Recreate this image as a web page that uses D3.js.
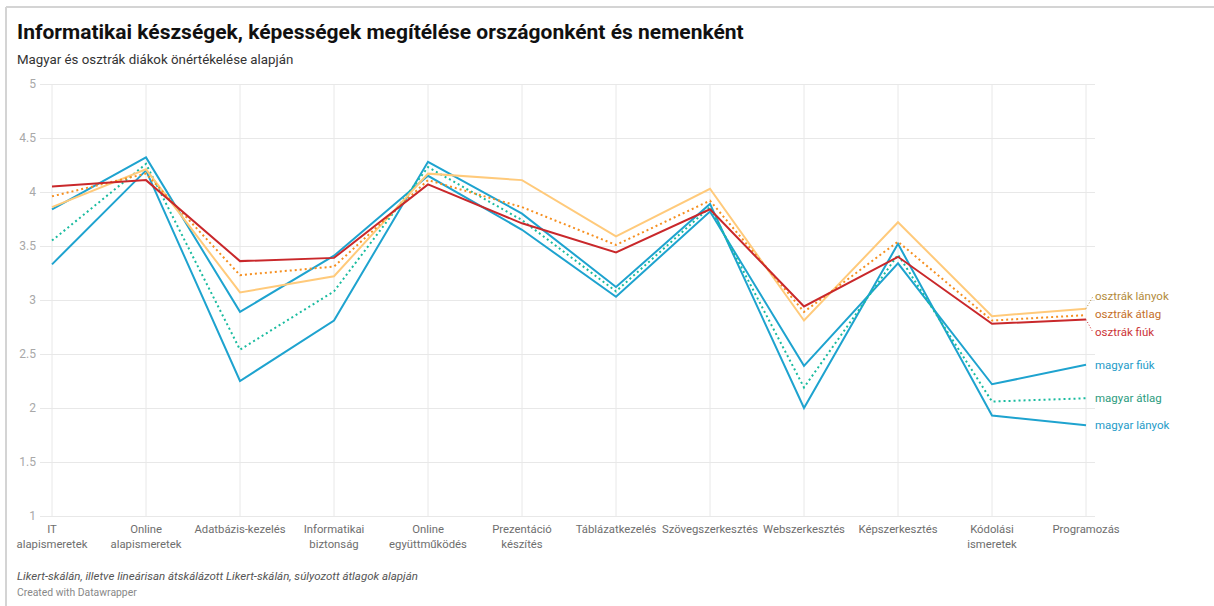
<!DOCTYPE html>
<html>
<head>
<meta charset="utf-8">
<script src="https://cdn.jsdelivr.net/npm/d3@7"></script>
<style>
  body { margin: 0; background: #fff; }
  svg { display: block; font-family: Roboto, "Noto Sans", sans-serif; }
</style>
</head>
<body>
<svg width="1214" height="606"></svg>
<script>
// categories on the x axis (each may wrap to two lines)
var categories = [
  "IT alapismeretek", "Online alapismeretek", "Adatbázis-kezelés",
  "Informatikai biztonság", "Online együttműködés", "Prezentáció készítés",
  "Táblázatkezelés", "Szövegszerkesztés", "Webszerkesztés",
  "Képszerkesztés", "Kódolási ismeretek", "Programozás"
];
var categoryLines = [
  ["IT", "alapismeretek"], ["Online", "alapismeretek"], ["Adatbázis-kezelés"],
  ["Informatikai", "biztonság"], ["Online", "együttműködés"], ["Prezentáció", "készítés"],
  ["Táblázatkezelés"], ["Szövegszerkesztés"], ["Webszerkesztés"],
  ["Képszerkesztés"], ["Kódolási", "ismeretek"], ["Programozás"]
];
var yTicks = [1, 1.5, 2, 2.5, 3, 3.5, 4, 4.5, 5];

// series values
var magyarLanyok  = [3.33, 4.20, 2.25, 2.81, 4.28, 3.80, 3.12, 3.89, 2.00, 3.52, 1.93, 1.84];
var magyarFiuk    = [3.84, 4.32, 2.89, 3.41, 4.15, 3.65, 3.03, 3.82, 2.39, 3.34, 2.22, 2.40];
var magyarAtlag   = [3.55, 4.26, 2.54, 3.08, 4.23, 3.74, 3.08, 3.86, 2.19, 3.42, 2.06, 2.09];
var osztrakLanyok = [3.86, 4.21, 3.07, 3.22, 4.17, 4.11, 3.59, 4.03, 2.81, 3.72, 2.85, 2.92];
var osztrakAtlag  = [3.96, 4.17, 3.23, 3.31, 4.11, 3.86, 3.51, 3.92, 2.89, 3.54, 2.81, 2.86];
var osztrakFiuk   = [4.05, 4.11, 3.36, 3.39, 4.07, 3.71, 3.44, 3.84, 2.94, 3.40, 2.78, 2.82];

var series = [
  { name: "magyar lányok", values: magyarLanyok, color: "#1ea3cf", label: "#1e9bc8", dash: null },
  { name: "magyar fiúk", values: magyarFiuk, color: "#1ea3cf", label: "#1e9bc8", dash: null },
  { name: "magyar átlag", values: magyarAtlag, color: "#19bb9f", label: "#2b9b7e", dash: "2,3" },
  { name: "osztrák lányok", values: osztrakLanyok, color: "#ffca7b", label: "#b38b3c", dash: null },
  { name: "osztrák átlag", values: osztrakAtlag, color: "#f68f1f", label: "#c5702a", dash: "2,3" },
  { name: "osztrák fiúk", values: osztrakFiuk, color: "#c9282b", label: "#cc3437", dash: null }
];

var width = 1214, height = 606;
var margin = { left: 52, right: 128, top: 84, bottom: 90 };

var svg = d3.select("svg");

// frame
svg.append("line").attr("x1", 6).attr("x2", width).attr("y1", 7).attr("y2", 7)
  .attr("stroke", "#d4d4d4").attr("stroke-width", 2);
svg.append("line").attr("x1", 6).attr("x2", 6).attr("y1", 7).attr("y2", height)
  .attr("stroke", "#d4d4d4").attr("stroke-width", 2);

// title
svg.append("text").attr("x", 17).attr("y", 39)
  .attr("font-size", 21).attr("font-weight", 700).attr("fill", "#111")
  .text("Informatikai készségek, képességek megítélése országonként és nemenként");
svg.append("text").attr("x", 17).attr("y", 64)
  .attr("font-size", 13.3).attr("fill", "#333")
  .text("Magyar és osztrák diákok önértékelése alapján");

var xScale = d3.scalePoint()
  .domain(categories)
  .range([margin.left, width - margin.right]);

var yScale = d3.scaleLinear()
  .domain([1, 5])
  .range([height - margin.bottom, margin.top]);

// horizontal grid + y labels
var yAxis = d3.axisLeft(yScale)
  .tickValues(yTicks)
  .tickSize(-(1095 - 40))
  .tickFormat(d3.format("~g"));

var gy = svg.append("g")
  .attr("transform", "translate(40,0)")
  .call(yAxis);
gy.select(".domain").remove();
gy.selectAll(".tick line").attr("stroke", "#e8e8e8").attr("stroke-width", 1);
gy.selectAll(".tick text").attr("x", -4).attr("font-size", 12)
  .attr("fill", "#a8a8a8").attr("font-family", "Roboto");

// vertical grid
svg.append("g").selectAll("line")
  .data(categories)
  .enter().append("line")
  .attr("x1", function(d) { return xScale(d); })
  .attr("x2", function(d) { return xScale(d); })
  .attr("y1", yScale(5))
  .attr("y2", yScale(1))
  .attr("stroke", "#e8e8e8");

// x labels
var xl = svg.append("g").selectAll("text")
  .data(categories)
  .enter().append("text")
  .attr("text-anchor", "middle")
  .attr("font-size", 11.3)
  .attr("fill", "#6e6e6e")
  .attr("transform", function(d) { return "translate(" + xScale(d) + "," + (yScale(1) + 17) + ")"; });
xl.each(function(d, i) {
  var t = d3.select(this);
  categoryLines[i].forEach(function(line, j) {
    t.append("tspan").attr("x", 0).attr("y", j * 14.5).text(line);
  });
});

// lines
var line = d3.line()
  .x(function(d, i) { return xScale(categories[i]); })
  .y(function(d) { return yScale(d); });

svg.append("g").selectAll("path")
  .data(series)
  .enter().append("path")
  .attr("d", function(d) { return line(d.values); })
  .attr("fill", "none")
  .attr("stroke", function(d) { return d.color; })
  .attr("stroke-width", 2)
  .attr("stroke-linejoin", "miter")
  .attr("stroke-dasharray", function(d) { return d.dash; });

// end labels with simple overlap avoidance
var last = categories.length - 1;
var endX = xScale(categories[last]);
var labels = series.map(function(s) {
  var y0 = yScale(s.values[last]);
  return { s: s, y0: y0, y: y0 };
});
labels.sort(function(a, b) { return a.y0 - b.y0; });
var gap = 18;
for (var iter = 0; iter < 50; iter++) {
  var moved = false;
  for (var k = 1; k < labels.length; k++) {
    var a = labels[k - 1], b = labels[k];
    var overlap = gap - (b.y - a.y);
    if (overlap > 0.01) {
      a.y -= overlap / 2;
      b.y += overlap / 2;
      moved = true;
    }
  }
  if (!moved) break;
}

var lg = svg.append("g");
labels.forEach(function(l) {
  if (Math.abs(l.y - l.y0) > 4) {
    lg.append("line")
      .attr("x1", endX).attr("y1", l.y0)
      .attr("x2", endX + 7).attr("y2", l.y)
      .attr("stroke", l.s.label).attr("stroke-width", 1)
      .attr("stroke-dasharray", "1,2");
  }
  lg.append("text")
    .attr("x", endX + 9)
    .attr("y", l.y)
    .attr("dy", "0.35em")
    .attr("font-size", 11.5)
    .attr("fill", l.s.label)
    .text(l.s.name);
});

// footer
svg.append("text").attr("x", 17).attr("y", 580)
  .attr("font-size", 11.5).attr("font-style", "italic").attr("fill", "#555")
  .text("Likert-skálán, illetve lineárisan átskálázott Likert-skálán, súlyozott átlagok alapján");
svg.append("text").attr("x", 17).attr("y", 596)
  .attr("font-size", 10.4).attr("fill", "#888")
  .text("Created with Datawrapper");
</script>
</body>
</html>
